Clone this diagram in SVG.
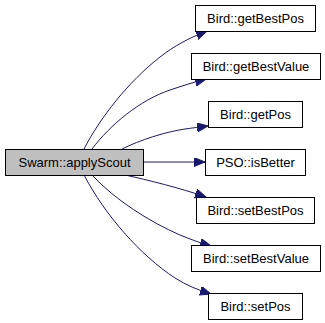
<svg xmlns="http://www.w3.org/2000/svg" width="325" height="323" viewBox="0 0 325 323">
  <style>
    .node rect { fill: #ffffff; stroke: #000000; stroke-width: 1; }
    .node.root rect { fill: #bfbfbf; }
    .node text { font-family: "Liberation Sans", Arial, sans-serif; font-size: 13px; fill: #000000; text-anchor: middle; }
    .edge { fill: none; stroke: #191970; stroke-width: 1; marker-end: url(#arrow); }
  </style>
  <defs>
    <marker id="arrow" markerUnits="userSpaceOnUse" markerWidth="12" markerHeight="10" refX="11" refY="4.5" orient="auto">
      <path d="M0,0 L11,4.5 L0,9 z" fill="#191970" stroke="#191970" stroke-width="1"/>
    </marker>
  </defs>
  <rect width="325" height="323" fill="#ffffff"/>

  <g id="edges">
    <path class="edge" d="M84,149 C100,118 128,82 160,57 C174,46 189,38 207,31"/>
    <path class="edge" d="M92,149 C110,125 140,100 170,90 C182,86 194,82 206,79"/>
    <path class="edge" d="M122,149 C140,140 165,132 185,129 C192,128 200,127 208,126"/>
    <path class="edge" d="M143,162 L205,162"/>
    <path class="edge" d="M125,175 C148,180 180,188 206,197"/>
    <path class="edge" d="M92,175 C115,200 150,222 180,235 C190,239 200,243 211,246"/>
    <path class="edge" d="M84,175 C105,215 140,255 175,278 C186,285 198,290 211,294"/>
  </g>

  <g id="node-applyScout" class="node root">
    <rect x="5.5" y="149.5" width="138" height="26"/>
    <text x="74.5" y="167">Swarm::applyScout</text>
  </g>
  <g id="node-getBestPos" class="node">
    <rect x="195.5" y="5.5" width="120" height="26"/>
    <text x="255.5" y="23">Bird::getBestPos</text>
  </g>
  <g id="node-getBestValue" class="node">
    <rect x="191.5" y="53.5" width="129" height="26"/>
    <text x="256" y="71">Bird::getBestValue</text>
  </g>
  <g id="node-getPos" class="node">
    <rect x="208.5" y="101.5" width="94" height="26"/>
    <text x="255.5" y="119">Bird::getPos</text>
  </g>
  <g id="node-isBetter" class="node">
    <rect x="205.5" y="149.5" width="100" height="26"/>
    <text x="255.5" y="167">PSO::isBetter</text>
  </g>
  <g id="node-setBestPos" class="node">
    <rect x="196.5" y="197.5" width="118" height="26"/>
    <text x="255.5" y="215">Bird::setBestPos</text>
  </g>
  <g id="node-setBestValue" class="node">
    <rect x="191.5" y="245.5" width="129" height="26"/>
    <text x="256" y="263">Bird::setBestValue</text>
  </g>
  <g id="node-setPos" class="node">
    <rect x="208.5" y="293.5" width="94" height="26"/>
    <text x="255.5" y="311">Bird::setPos</text>
  </g>
</svg>
